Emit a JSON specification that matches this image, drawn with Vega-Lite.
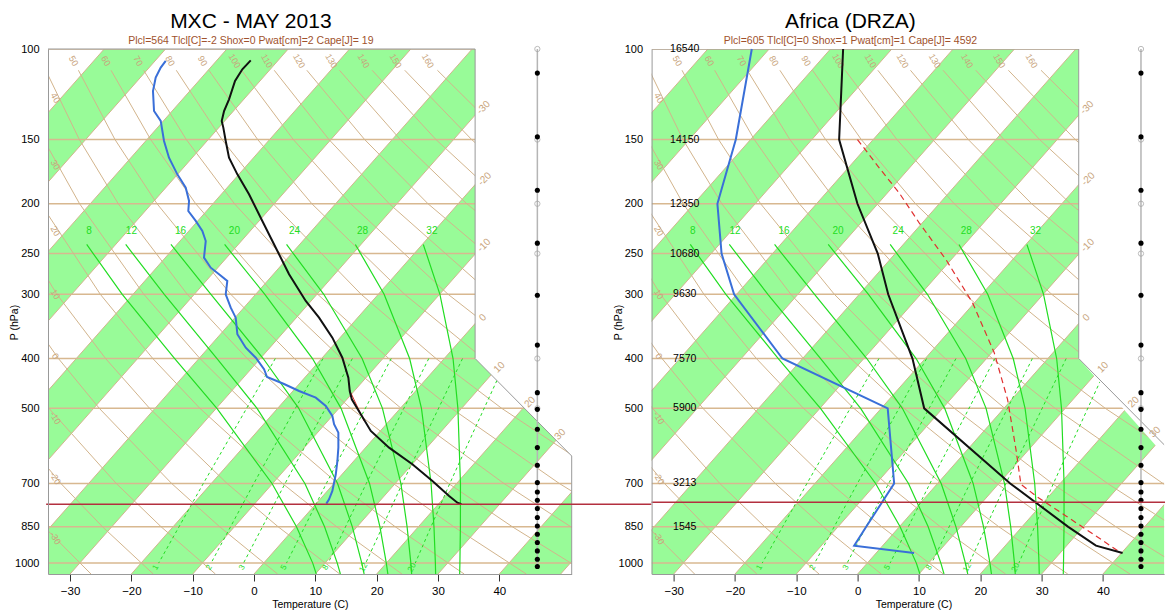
{
"$schema": "https://vega.github.io/schema/vega-lite/v6.json",
"background": "white",
"padding": {"left": 9, "top": 10, "right": 0, "bottom": 0},
"bounds": "flush",
"spacing": 79.6,
"config": {"font": "Liberation Sans", "view": {"stroke": null}, "title": {"font": "Liberation Sans", "subtitleFont": "Liberation Sans"}, "axis": {"labelFont": "Liberation Sans", "titleFont": "Liberation Sans"}},
"datasets": {
"stripes": [{"b":-100,"p":100,"x":-24.43,"x2":-14.43},{"b":-100,"p":1050,"x":-100,"x2":-90},{"b":-80,"p":100,"x":-4.43,"x2":5.57},{"b":-80,"p":1050,"x":-80,"x2":-70},{"b":-60,"p":100,"x":15.57,"x2":25.57},{"b":-60,"p":1050,"x":-60,"x2":-50},{"b":-40,"p":100,"x":35.57,"x2":45.57},{"b":-40,"p":1050,"x":-40,"x2":-30},{"b":-20,"p":100,"x":55.57,"x2":65.57},{"b":-20,"p":1050,"x":-20,"x2":-10},{"b":0,"p":100,"x":75.57,"x2":85.57},{"b":0,"p":1050,"x":0,"x2":10},{"b":20,"p":100,"x":95.57,"x2":105.57},{"b":20,"p":1050,"x":20,"x2":30},{"b":40,"p":100,"x":115.57,"x2":125.57},{"b":40,"p":1050,"x":40,"x2":50}],
"isoT": [{"T":-100,"p":100,"x":-24.43},{"T":-100,"p":1050,"x":-100},{"T":-90,"p":100,"x":-14.43},{"T":-90,"p":1050,"x":-90},{"T":-80,"p":100,"x":-4.43},{"T":-80,"p":1050,"x":-80},{"T":-70,"p":100,"x":5.57},{"T":-70,"p":1050,"x":-70},{"T":-60,"p":100,"x":15.57},{"T":-60,"p":1050,"x":-60},{"T":-50,"p":100,"x":25.57},{"T":-50,"p":1050,"x":-50},{"T":-40,"p":100,"x":35.57},{"T":-40,"p":1050,"x":-40},{"T":-30,"p":100,"x":45.57},{"T":-30,"p":1050,"x":-30},{"T":-20,"p":100,"x":55.57},{"T":-20,"p":1050,"x":-20},{"T":-10,"p":100,"x":65.57},{"T":-10,"p":1050,"x":-10},{"T":0,"p":100,"x":75.57},{"T":0,"p":1050,"x":0},{"T":10,"p":100,"x":85.57},{"T":10,"p":1050,"x":10},{"T":20,"p":100,"x":95.57},{"T":20,"p":1050,"x":20},{"T":30,"p":100,"x":105.57},{"T":30,"p":1050,"x":30},{"T":40,"p":100,"x":115.57},{"T":40,"p":1050,"x":40},{"T":50,"p":100,"x":125.57},{"T":50,"p":1050,"x":50}],
"isob": [{"p":100,"x":-33.6,"x2":36.05},{"p":150,"x":-33.6,"x2":36.05},{"p":200,"x":-33.6,"x2":36.05},{"p":250,"x":-33.6,"x2":36.05},{"p":300,"x":-33.6,"x2":36.05},{"p":400,"x":-33.6,"x2":36.05},{"p":500,"x":-33.6,"x2":44.1},{"p":700,"x":-33.6,"x2":51.8},{"p":850,"x":-33.6,"x2":51.8},{"p":1000,"x":-33.6,"x2":51.8}],
"dry": [
{"th":-30,"p":110,"x":-71.23},{"th":-30,"p":150,"x":-69.2},{"th":-30,"p":200,"x":-66.33},{"th":-30,"p":300,"x":-60.52},{"th":-30,"p":400,"x":-54.99},{"th":-30,"p":500,"x":-49.84},{"th":-30,"p":700,"x":-40.53},{"th":-30,"p":850,"x":-34.24},{"th":-30,"p":1050,"x":-26.59},
{"th":-20,"p":110,"x":-65.9},{"th":-20,"p":150,"x":-63.39},{"th":-20,"p":200,"x":-60.02},{"th":-20,"p":300,"x":-53.43},{"th":-20,"p":400,"x":-47.3},{"th":-20,"p":500,"x":-41.64},{"th":-20,"p":700,"x":-31.5},{"th":-20,"p":850,"x":-24.7},{"th":-20,"p":1050,"x":-16.44},
{"th":-10,"p":110,"x":-60.58},{"th":-10,"p":150,"x":-57.57},{"th":-10,"p":200,"x":-53.71},{"th":-10,"p":300,"x":-46.34},{"th":-10,"p":400,"x":-39.6},{"th":-10,"p":500,"x":-33.44},{"th":-10,"p":700,"x":-22.47},{"th":-10,"p":850,"x":-15.15},{"th":-10,"p":1050,"x":-6.3},
{"th":0,"p":110,"x":-55.26},{"th":0,"p":150,"x":-51.76},{"th":0,"p":200,"x":-47.39},{"th":0,"p":300,"x":-39.25},{"th":0,"p":400,"x":-31.9},{"th":0,"p":500,"x":-25.23},{"th":0,"p":700,"x":-13.44},{"th":0,"p":850,"x":-5.6},{"th":0,"p":1050,"x":3.84},
{"th":10,"p":110,"x":-49.94},{"th":10,"p":150,"x":-45.94},{"th":10,"p":200,"x":-41.08},{"th":10,"p":300,"x":-32.16},{"th":10,"p":400,"x":-24.21},{"th":10,"p":500,"x":-17.03},{"th":10,"p":700,"x":-4.4},{"th":10,"p":850,"x":3.94},{"th":10,"p":1050,"x":13.98},
{"th":20,"p":110,"x":-44.61},{"th":20,"p":150,"x":-40.12},{"th":20,"p":200,"x":-34.77},{"th":20,"p":300,"x":-25.07},{"th":20,"p":400,"x":-16.51},{"th":20,"p":500,"x":-8.83},{"th":20,"p":700,"x":4.63},{"th":20,"p":850,"x":13.49},{"th":20,"p":1050,"x":24.12},
{"th":30,"p":110,"x":-39.29},{"th":30,"p":150,"x":-34.31},{"th":30,"p":200,"x":-28.45},{"th":30,"p":300,"x":-17.98},{"th":30,"p":400,"x":-8.82},{"th":30,"p":500,"x":-0.62},{"th":30,"p":700,"x":13.66},{"th":30,"p":850,"x":23.04},{"th":30,"p":1050,"x":34.26},
{"th":40,"p":110,"x":-33.97},{"th":40,"p":150,"x":-28.49},{"th":40,"p":200,"x":-22.14},{"th":40,"p":300,"x":-10.89},{"th":40,"p":400,"x":-1.12},{"th":40,"p":500,"x":7.58},{"th":40,"p":700,"x":22.69},{"th":40,"p":850,"x":32.59},{"th":40,"p":1050,"x":44.4},
{"th":50,"p":110,"x":-28.64},{"th":50,"p":150,"x":-22.68},{"th":50,"p":200,"x":-15.82},{"th":50,"p":300,"x":-3.8},{"th":50,"p":400,"x":6.58},{"th":50,"p":500,"x":15.78},{"th":50,"p":700,"x":31.72},{"th":50,"p":850,"x":42.13},{"th":50,"p":1050,"x":54.54},
{"th":60,"p":110,"x":-23.32},{"th":60,"p":150,"x":-16.86},{"th":60,"p":200,"x":-9.51},{"th":60,"p":300,"x":3.29},{"th":60,"p":400,"x":14.28},{"th":60,"p":500,"x":23.99},{"th":60,"p":700,"x":40.75},{"th":60,"p":850,"x":51.67},{"th":60,"p":1050,"x":64.68},
{"th":70,"p":110,"x":-18.0},{"th":70,"p":150,"x":-11.05},{"th":70,"p":200,"x":-3.19},{"th":70,"p":300,"x":10.38},{"th":70,"p":400,"x":21.97},{"th":70,"p":500,"x":32.19},{"th":70,"p":700,"x":49.78},{"th":70,"p":850,"x":61.22},
{"th":80,"p":110,"x":-12.68},{"th":80,"p":150,"x":-5.23},{"th":80,"p":200,"x":3.12},{"th":80,"p":300,"x":17.46},{"th":80,"p":400,"x":29.67},{"th":80,"p":500,"x":40.39},{"th":80,"p":700,"x":58.81},
{"th":90,"p":110,"x":-7.36},{"th":90,"p":150,"x":0.59},{"th":90,"p":200,"x":9.43},{"th":90,"p":300,"x":24.55},{"th":90,"p":400,"x":37.36},{"th":90,"p":500,"x":48.6},{"th":90,"p":700,"x":67.84},
{"th":100,"p":110,"x":-2.03},{"th":100,"p":150,"x":6.4},{"th":100,"p":200,"x":15.75},{"th":100,"p":300,"x":31.64},{"th":100,"p":400,"x":45.06},{"th":100,"p":500,"x":56.81},
{"th":110,"p":110,"x":3.29},{"th":110,"p":150,"x":12.22},{"th":110,"p":200,"x":22.06},{"th":110,"p":300,"x":38.73},{"th":110,"p":400,"x":52.76},
{"th":120,"p":110,"x":8.61},{"th":120,"p":150,"x":18.03},{"th":120,"p":200,"x":28.37},{"th":120,"p":300,"x":45.82},{"th":120,"p":400,"x":60.45},
{"th":130,"p":110,"x":13.93},{"th":130,"p":150,"x":23.85},{"th":130,"p":200,"x":34.69},{"th":130,"p":300,"x":52.91},
{"th":140,"p":110,"x":19.26},{"th":140,"p":150,"x":29.66},{"th":140,"p":200,"x":41.0},{"th":140,"p":300,"x":60.0},
{"th":150,"p":110,"x":24.58},{"th":150,"p":150,"x":35.48},{"th":150,"p":200,"x":47.31},{"th":150,"p":300,"x":67.09},
{"th":160,"p":110,"x":29.9},{"th":160,"p":150,"x":41.3},{"th":160,"p":200,"x":53.63}],
"moist": [
{"w":8,"p":240,"x":-27.29},{"w":8,"p":250,"x":-26.23},{"w":8,"p":300,"x":-21.49},{"w":8,"p":400,"x":-12.94},{"w":8,"p":500,"x":-6.06},{"w":8,"p":700,"x":2.93},{"w":8,"p":850,"x":6.92},{"w":8,"p":1000,"x":9.57},{"w":8,"p":1050,"x":10.15},
{"w":12,"p":240,"x":-20.93},{"w":12,"p":250,"x":-19.78},{"w":12,"p":300,"x":-14.64},{"w":12,"p":400,"x":-6.04},{"w":12,"p":500,"x":0.49},{"w":12,"p":700,"x":8.29},{"w":12,"p":850,"x":11.5},{"w":12,"p":1000,"x":13.57},{"w":12,"p":1050,"x":14.08},
{"w":16,"p":240,"x":-13.55},{"w":16,"p":250,"x":-12.36},{"w":16,"p":300,"x":-7.03},{"w":16,"p":400,"x":1.49},{"w":16,"p":500,"x":7.29},{"w":16,"p":700,"x":13.62},{"w":16,"p":850,"x":16.03},{"w":16,"p":1000,"x":17.57},{"w":16,"p":1050,"x":17.95},
{"w":20,"p":240,"x":-4.8},{"w":20,"p":250,"x":-3.6},{"w":20,"p":300,"x":1.76},{"w":20,"p":400,"x":9.53},{"w":20,"p":500,"x":14.19},{"w":20,"p":700,"x":18.83},{"w":20,"p":850,"x":20.53},{"w":20,"p":1000,"x":21.57},{"w":20,"p":1050,"x":21.82},
{"w":24,"p":240,"x":5.3},{"w":24,"p":250,"x":6.41},{"w":24,"p":300,"x":11.37},{"w":24,"p":400,"x":17.62},{"w":24,"p":500,"x":20.94},{"w":24,"p":700,"x":23.94},{"w":24,"p":850,"x":24.96},{"w":24,"p":1000,"x":25.57},{"w":24,"p":1050,"x":25.7},
{"w":28,"p":240,"x":16.52},{"w":28,"p":250,"x":17.38},{"w":28,"p":300,"x":21.21},{"w":28,"p":400,"x":25.37},{"w":28,"p":500,"x":27.3},{"w":28,"p":700,"x":28.87},{"w":28,"p":850,"x":29.34},{"w":28,"p":1000,"x":29.57},{"w":28,"p":1050,"x":29.61},
{"w":32,"p":240,"x":27.6},{"w":32,"p":250,"x":28.1},{"w":32,"p":300,"x":30.31},{"w":32,"p":400,"x":32.45},{"w":32,"p":500,"x":33.24},{"w":32,"p":700,"x":33.66},{"w":32,"p":850,"x":33.65},{"w":32,"p":1000,"x":33.57},{"w":32,"p":1050,"x":33.53}],
"mix": [
{"r":1,"p":1000,"x":-15.56},{"r":1,"p":700,"x":-8.27},{"r":1,"p":400,"x":3.47},
{"r":2,"p":1000,"x":-7.01},{"r":2,"p":700,"x":-0.04},{"r":2,"p":400,"x":11.24},
{"r":3,"p":1000,"x":-1.72},{"r":3,"p":700,"x":5.06},{"r":3,"p":400,"x":16.03},
{"r":5,"p":1000,"x":5.29},{"r":5,"p":700,"x":11.79},{"r":5,"p":400,"x":22.37},
{"r":8,"p":1000,"x":12.08},{"r":8,"p":700,"x":18.3},{"r":8,"p":400,"x":28.49},
{"r":12,"p":1000,"x":18.21},{"r":12,"p":700,"x":24.18},{"r":12,"p":400,"x":34.0},
{"r":20,"p":1000,"x":26.29},{"r":20,"p":700,"x":31.92},{"r":20,"p":400,"x":41.24}],
"mask": [{"p":99,"x":36.05,"x2":52.3},{"p":400,"x":36.05,"x2":52.3},{"p":619,"x":51.8,"x2":52.3}],
"maskR": [{"p":99.5,"x":36.05,"x2":50.12},{"p":400,"x":36.05,"x2":50.12},{"p":619,"x":50.12,"x2":50.12}],
"frame": [{"o":1,"p":100,"x":-33.6},{"o":2,"p":100,"x":36.05},{"o":3,"p":400,"x":36.05},{"o":4,"p":619,"x":51.8},{"o":5,"p":1050,"x":51.8}],
"windLine": [{"p":100,"x":46.2},{"p":1015,"x":46.2}],
"windOpen": [{"p":100,"x":46.2},{"p":150,"x":46.2},{"p":200,"x":46.2},{"p":250,"x":46.2},{"p":400,"x":46.2},{"p":500,"x":46.2}],
"wind": [{"p":111.4,"x":46.2},{"p":148.2,"x":46.2},{"p":188.3,"x":46.2},{"p":238.6,"x":46.2},{"p":301.2,"x":46.2},{"p":376.7,"x":46.2},{"p":466.1,"x":46.2},{"p":502.2,"x":46.2},{"p":549.2,"x":46.2},{"p":596.1,"x":46.2},{"p":645.2,"x":46.2},{"p":697.2,"x":46.2},{"p":727.1,"x":46.2},{"p":754.6,"x":46.2},{"p":783.2,"x":46.2},{"p":815.3,"x":46.2},{"p":846.6,"x":46.2},{"p":878.7,"x":46.2},{"p":911.9,"x":46.2},{"p":946.8,"x":46.2},{"p":982.6,"x":46.2},{"p":1015.2,"x":46.2}],
"dryLab": [{"t":"50","p":105.5,"x":-29.42},{"t":"60","p":105.5,"x":-24.17},{"t":"70","p":105.5,"x":-18.92},{"t":"80","p":105.5,"x":-13.67},{"t":"90","p":105.5,"x":-8.41},{"t":"100","p":105.5,"x":-3.16},{"t":"110","p":105.5,"x":2.09},{"t":"120","p":105.5,"x":7.34},{"t":"130","p":105.5,"x":12.6},{"t":"140","p":105.5,"x":17.85},{"t":"150","p":105.5,"x":23.1},{"t":"160","p":105.5,"x":28.35},{"t":"40","p":124.5,"x":-32.4},{"t":"30","p":168,"x":-32.4},{"t":"20","p":226,"x":-32.4},{"t":"10","p":300,"x":-32.4},{"t":"0","p":396,"x":-32.4},{"t":"-10","p":522,"x":-32.4},{"t":"-20","p":684,"x":-32.4},{"t":"-30","p":894,"x":-32.4}],
"moistLab": [{"t":"8","p":226,"x":-26.9},{"t":"12","p":226,"x":-20.0},{"t":"16","p":226,"x":-12.0},{"t":"20","p":226,"x":-3.2},{"t":"24","p":226,"x":6.6},{"t":"28","p":226,"x":17.7},{"t":"32","p":226,"x":29.0}],
"mixLab": [{"t":"1","p":1020,"x":-16.0},{"t":"2","p":1020,"x":-7.3},{"t":"3","p":1020,"x":-1.9},{"t":"5","p":1020,"x":4.9},{"t":"8","p":1020,"x":11.7},{"t":"12","p":1020,"x":17.9},{"t":"20","p":1020,"x":25.8}],
"isoLab": [{"t":"-30","p":130,"x":37.4},{"t":"-20","p":179,"x":37.6},{"t":"-10","p":241,"x":37.5},{"t":"0","p":333,"x":37.3},{"t":"10","p":416,"x":40.0},{"t":"20","p":486,"x":45.0},{"t":"30","p":562,"x":49.9}],
"isoLabR": [{"t":"-30","p":130,"x":37.4},{"t":"-20","p":179,"x":37.6},{"t":"-10","p":241,"x":37.5},{"t":"0","p":333,"x":37.3},{"t":"10","p":416,"x":40.0},{"t":"20","p":486,"x":45.0},{"t":"30","p":556,"x":48.5}],
"hgt": [{"t":"16540","p":100,"x":-28.2},{"t":"14150","p":150,"x":-28.2},{"t":"12350","p":200,"x":-28.2},{"t":"10680","p":250,"x":-28.2},{"t":"9630","p":300,"x":-28.2},{"t":"7570","p":400,"x":-28.2},{"t":"5900","p":500,"x":-28.2},{"t":"3213","p":700,"x":-28.2},{"t":"1545","p":850,"x":-28.2}],
"tL": [{"x":-0.54,"p":105.2},{"x":-1.91,"p":109.5},{"x":-3.1,"p":115.4},{"x":-4.08,"p":125.3},{"x":-4.89,"p":132},{"x":-5.27,"p":138},{"x":-5.01,"p":142.2},{"x":-4.62,"p":151},{"x":-4.08,"p":162.7},{"x":-2.72,"p":175.3},{"x":-0.82,"p":191.7},{"x":1.35,"p":216},{"x":3.54,"p":243.5},{"x":5.71,"p":274.3},{"x":8.43,"p":309.1},{"x":10.6,"p":333.1},{"x":12.77,"p":364.3},{"x":14.4,"p":398.5},{"x":15.38,"p":435.8},{"x":15.61,"p":462.6},{"x":15.94,"p":480.1},{"x":17.41,"p":513.5},{"x":19.04,"p":553.3},{"x":22.02,"p":596.3},{"x":25.82,"p":642.3},{"x":29.09,"p":692.2},{"x":31.81,"p":740.3},{"x":33.16,"p":762.8},{"x":33.82,"p":768.3}],
"tdL": [{"x":-14.4,"p":105.5},{"x":-15.22,"p":108.7},{"x":-16.04,"p":113.7},{"x":-16.48,"p":120.7},{"x":-16.31,"p":132},{"x":-15.22,"p":138},{"x":-14.68,"p":151},{"x":-13.87,"p":162.7},{"x":-12.51,"p":175.3},{"x":-11.14,"p":186.1},{"x":-10.6,"p":197.5},{"x":-10.72,"p":206.6},{"x":-9.51,"p":216},{"x":-8.43,"p":225.9},{"x":-7.88,"p":236.3},{"x":-8.16,"p":254.6},{"x":-7.06,"p":266.3},{"x":-5.71,"p":274.3},{"x":-4.36,"p":282.6},{"x":-4.62,"p":300},{"x":-3.8,"p":318.5},{"x":-2.99,"p":333.1},{"x":-2.72,"p":358.8},{"x":-1.35,"p":381},{"x":0.28,"p":398.5},{"x":1.63,"p":419.7},{"x":2.12,"p":434.5},{"x":4.89,"p":448.3},{"x":7.34,"p":462.6},{"x":10.07,"p":476.6},{"x":11.7,"p":494.6},{"x":12.77,"p":517.3},{"x":13.05,"p":537},{"x":13.75,"p":557.5},{"x":13.75,"p":596.3},{"x":13.59,"p":632.9},{"x":13.33,"p":671.7},{"x":12.77,"p":723.9},{"x":12.23,"p":751.3},{"x":11.79,"p":766.2}],
"parcelL": [{"x":15.77,"p":466},{"x":16.8,"p":495},{"x":17.94,"p":529}],
"redL": [{"p":768,"x":-33.9,"x2":64.8}],
"tR": [{"x":-2.37,"p":100},{"x":-3.02,"p":150},{"x":-0.03,"p":200},{"x":3.28,"p":250},{"x":4.98,"p":300},{"x":8.94,"p":400},{"x":10.85,"p":500},{"x":24.88,"p":700},{"x":34.34,"p":850},{"x":38.86,"p":925},{"x":43.2,"p":956}],
"tdR": [{"x":-17.26,"p":100},{"x":-19.87,"p":150},{"x":-22.87,"p":200},{"x":-22.19,"p":250},{"x":-20.15,"p":300},{"x":-12.27,"p":400},{"x":4.9,"p":500},{"x":5.95,"p":700},{"x":1.39,"p":850},{"x":-0.57,"p":925},{"x":9.2,"p":956}],
"parcelR": [{"x":-0.03,"p":150},{"x":3.51,"p":170.3},{"x":6.77,"p":190.5},{"x":10.03,"p":217.8},{"x":14.39,"p":256.7},{"x":18.73,"p":311.6},{"x":22.27,"p":389.7},{"x":24.44,"p":480.2},{"x":25.81,"p":600.6},{"x":26.62,"p":702.5},{"x":29.07,"p":740.3},{"x":33.96,"p":809.6},{"x":38.86,"p":885.4},{"x":42.94,"p":956}],
"redR": [{"p":761,"x":-33.6,"x2":50.12}]
},
"hconcat": [
{
"width": 523.7, "height": 525,
"title": {"text": "MXC - MAY 2013", "subtitle": "Plcl=564 Tlcl[C]=-2 Shox=0 Pwat[cm]=2 Cape[J]= 19", "fontSize": 21, "fontWeight": "normal", "color": "black", "subtitleFontSize": 10.5, "subtitleColor": "#a0522d", "subtitlePadding": 4, "offset": -3, "anchor": "middle", "dx": -59},
"encoding": {
"x": {"field": "x", "type": "quantitative", "scale": {"domain": [-33.6, 51.8], "nice": false, "zero": false}, "axis": {"values": [-30,-20,-10,0,10,20,30,40], "tickSize": 7, "tickColor": "#333", "domainColor": "#999", "labelFontSize": 11.5, "labelColor": "black", "labelPadding": 4, "labelFlush": false, "title": "Temperature (C)", "titleFontSize": 10.5, "titleFontWeight": "normal", "titleColor": "black", "titlePadding": 3, "grid": false, "zindex": 1}},
"y": {"field": "p", "type": "quantitative", "scale": {"type": "log", "domain": [100, 1050], "reverse": true, "nice": false}, "axis": {"values": [100,150,200,250,300,400,500,700,850,1000], "format": "d", "ticks": false, "domainColor": "#999", "labelFontSize": 11, "labelColor": "black", "labelPadding": 9, "labelOverlap": false, "grid": false, "title": "P (hPa)", "titleFontSize": 10.5, "titleFontWeight": "normal", "titleColor": "black", "titleX": -34, "titleY": 273, "titleAngle": -90, "titleAlign": "center", "titleBaseline": "middle", "zindex": 1}}
},
"layer": [
{"data": {"name": "stripes"}, "mark": {"type": "area", "orient": "horizontal", "clip": true, "color": "#98fb98", "opacity": 1}, "encoding": {"x2": {"field": "x2"}, "detail": {"field": "b"}}},
{"data": {"name": "isoT"}, "mark": {"type": "line", "clip": true, "color": "#d2b48c", "strokeWidth": 1}, "encoding": {"detail": {"field": "T"}, "order": {"field": "p", "type": "quantitative"}}},
{"data": {"name": "isob"}, "mark": {"type": "rule", "clip": true, "color": "#d8b890", "strokeWidth": 1.5}, "encoding": {"x2": {"field": "x2"}}},
{"data": {"name": "dry"}, "mark": {"type": "line", "clip": true, "color": "#d2b48c", "strokeWidth": 1}, "encoding": {"detail": {"field": "th"}, "order": {"field": "p", "type": "quantitative"}}},
{"data": {"name": "moist"}, "mark": {"type": "line", "clip": true, "color": "#22dd22", "strokeWidth": 1.2}, "encoding": {"detail": {"field": "w"}, "order": {"field": "p", "type": "quantitative"}}},
{"data": {"name": "mix"}, "mark": {"type": "line", "clip": true, "color": "#22dd22", "strokeWidth": 1, "strokeDash": [3, 3]}, "encoding": {"detail": {"field": "r"}, "order": {"field": "p", "type": "quantitative"}}},
{"data": {"name": "mask"}, "mark": {"type": "area", "orient": "horizontal", "clip": false, "color": "white", "opacity": 1}, "encoding": {"x2": {"field": "x2"}}},
{"data": {"name": "frame"}, "mark": {"type": "line", "clip": false, "color": "#999999", "strokeWidth": 1}, "encoding": {"order": {"field": "o", "type": "quantitative"}}},
{"data": {"name": "windLine"}, "mark": {"type": "line", "color": "#b5b5b5", "strokeWidth": 1.5}, "encoding": {"order": {"field": "p", "type": "quantitative"}}},
{"data": {"name": "windOpen"}, "mark": {"type": "point", "shape": "circle", "filled": false, "color": "#a0a0a0", "size": 28, "strokeWidth": 1}, "encoding": {}},
{"data": {"name": "wind"}, "mark": {"type": "point", "shape": "circle", "filled": true, "color": "black", "opacity": 1, "size": 26}, "encoding": {}},
{"data": {"name": "dryLab"}, "mark": {"type": "text", "clip": true, "color": "#c8a47c", "fontSize": 9, "angle": 60, "align": "center", "baseline": "middle"}, "encoding": {"text": {"field": "t"}}},
{"data": {"name": "moistLab"}, "mark": {"type": "text", "clip": true, "color": "#22dd22", "fontSize": 10, "align": "center", "baseline": "middle"}, "encoding": {"text": {"field": "t"}}},
{"data": {"name": "mixLab"}, "mark": {"type": "text", "clip": true, "color": "#22dd22", "fontSize": 8, "angle": 300, "align": "center", "baseline": "middle"}, "encoding": {"text": {"field": "t"}}},
{"data": {"name": "isoLab"}, "mark": {"type": "text", "clip": true, "color": "#c8a47c", "fontSize": 10, "angle": 315, "align": "center", "baseline": "middle"}, "encoding": {"text": {"field": "t"}}},
{"data": {"name": "tdL"}, "mark": {"type": "line", "color": "#3a6fd8", "strokeWidth": 2}, "encoding": {"order": {"field": "p", "type": "quantitative"}}},
{"data": {"name": "parcelL"}, "mark": {"type": "line", "color": "#e03030", "strokeWidth": 1}, "encoding": {"order": {"field": "p", "type": "quantitative"}}},
{"data": {"name": "tL"}, "mark": {"type": "line", "color": "#111111", "strokeWidth": 2}, "encoding": {"order": {"field": "p", "type": "quantitative"}}},
{"data": {"name": "redL"}, "mark": {"type": "rule", "clip": false, "color": "#b3303f", "strokeWidth": 1.5}, "encoding": {"x2": {"field": "x2"}}}
]
},
{
"width": 512.5, "height": 525,
"title": {"text": "Africa (DRZA)", "subtitle": "Plcl=605 Tlcl[C]=0 Shox=1 Pwat[cm]=1 Cape[J]= 4592", "fontSize": 21, "fontWeight": "normal", "color": "black", "subtitleFontSize": 10.5, "subtitleColor": "#a0522d", "subtitlePadding": 4, "offset": -3, "anchor": "middle", "dx": -57.4},
"encoding": {
"x": {"field": "x", "type": "quantitative", "scale": {"domain": [-33.6, 49.97], "nice": false, "zero": false}, "axis": {"values": [-30,-20,-10,0,10,20,30,40], "tickSize": 7, "tickColor": "#333", "domainColor": "#999", "labelFontSize": 11.5, "labelColor": "black", "labelPadding": 4, "labelFlush": false, "title": "Temperature (C)", "titleFontSize": 10.5, "titleFontWeight": "normal", "titleColor": "black", "titlePadding": 3, "titleX": 261.85, "grid": false, "zindex": 1}},
"y": {"field": "p", "type": "quantitative", "scale": {"type": "log", "domain": [100, 1050], "reverse": true, "nice": false}, "axis": {"values": [100,150,200,250,300,400,500,700,850,1000], "format": "d", "ticks": false, "domainColor": "#999", "labelFontSize": 11, "labelColor": "black", "labelPadding": 9, "labelOverlap": false, "grid": false, "title": "P (hPa)", "titleFontSize": 10.5, "titleFontWeight": "normal", "titleColor": "black", "titleX": -33, "titleY": 273, "titleAngle": -90, "titleAlign": "center", "titleBaseline": "middle", "zindex": 1}}
},
"layer": [
{"data": {"name": "stripes"}, "mark": {"type": "area", "orient": "horizontal", "clip": true, "color": "#98fb98", "opacity": 1}, "encoding": {"x2": {"field": "x2"}, "detail": {"field": "b"}}},
{"data": {"name": "isoT"}, "mark": {"type": "line", "clip": true, "color": "#d2b48c", "strokeWidth": 1}, "encoding": {"detail": {"field": "T"}, "order": {"field": "p", "type": "quantitative"}}},
{"data": {"name": "isob"}, "mark": {"type": "rule", "clip": true, "color": "#d8b890", "strokeWidth": 1.5}, "encoding": {"x2": {"field": "x2"}}},
{"data": {"name": "dry"}, "mark": {"type": "line", "clip": true, "color": "#d2b48c", "strokeWidth": 1}, "encoding": {"detail": {"field": "th"}, "order": {"field": "p", "type": "quantitative"}}},
{"data": {"name": "moist"}, "mark": {"type": "line", "clip": true, "color": "#22dd22", "strokeWidth": 1.2}, "encoding": {"detail": {"field": "w"}, "order": {"field": "p", "type": "quantitative"}}},
{"data": {"name": "mix"}, "mark": {"type": "line", "clip": true, "color": "#22dd22", "strokeWidth": 1, "strokeDash": [3, 3]}, "encoding": {"detail": {"field": "r"}, "order": {"field": "p", "type": "quantitative"}}},
{"data": {"name": "maskR"}, "mark": {"type": "area", "orient": "horizontal", "clip": false, "color": "white", "opacity": 1}, "encoding": {"x2": {"field": "x2"}}},
{"data": {"name": "frame"}, "mark": {"type": "line", "clip": true, "color": "#999999", "strokeWidth": 1}, "encoding": {"order": {"field": "o", "type": "quantitative"}}},
{"data": {"name": "windLine"}, "mark": {"type": "line", "color": "#b5b5b5", "strokeWidth": 1.5}, "encoding": {"order": {"field": "p", "type": "quantitative"}}},
{"data": {"name": "windOpen"}, "mark": {"type": "point", "shape": "circle", "filled": false, "color": "#a0a0a0", "size": 28, "strokeWidth": 1}, "encoding": {}},
{"data": {"name": "wind"}, "mark": {"type": "point", "shape": "circle", "filled": true, "color": "black", "opacity": 1, "size": 26}, "encoding": {}},
{"data": {"name": "dryLab"}, "mark": {"type": "text", "clip": true, "color": "#c8a47c", "fontSize": 9, "angle": 60, "align": "center", "baseline": "middle"}, "encoding": {"text": {"field": "t"}}},
{"data": {"name": "moistLab"}, "mark": {"type": "text", "clip": true, "color": "#22dd22", "fontSize": 10, "align": "center", "baseline": "middle"}, "encoding": {"text": {"field": "t"}}},
{"data": {"name": "mixLab"}, "mark": {"type": "text", "clip": true, "color": "#22dd22", "fontSize": 8, "angle": 300, "align": "center", "baseline": "middle"}, "encoding": {"text": {"field": "t"}}},
{"data": {"name": "isoLabR"}, "mark": {"type": "text", "clip": true, "color": "#c8a47c", "fontSize": 10, "angle": 315, "align": "center", "baseline": "middle"}, "encoding": {"text": {"field": "t"}}},
{"data": {"name": "hgt"}, "mark": {"type": "text", "clip": false, "color": "black", "fontSize": 10.5, "align": "center", "baseline": "middle"}, "encoding": {"text": {"field": "t"}}},
{"data": {"name": "tdR"}, "mark": {"type": "line", "color": "#3a6fd8", "strokeWidth": 2}, "encoding": {"order": {"field": "p", "type": "quantitative"}}},
{"data": {"name": "parcelR"}, "mark": {"type": "line", "color": "#e03030", "strokeWidth": 1.2, "strokeDash": [6, 4]}, "encoding": {"order": {"field": "p", "type": "quantitative"}}},
{"data": {"name": "tR"}, "mark": {"type": "line", "color": "#111111", "strokeWidth": 2}, "encoding": {"order": {"field": "p", "type": "quantitative"}}},
{"data": {"name": "redR"}, "mark": {"type": "rule", "clip": false, "color": "#b3303f", "strokeWidth": 1.5}, "encoding": {"x2": {"field": "x2"}}}
]
}
]
}
